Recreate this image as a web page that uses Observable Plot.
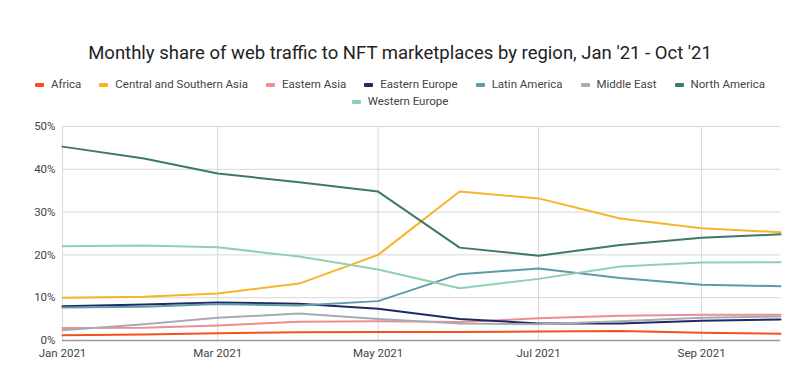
<!DOCTYPE html>
<html>
<head>
<meta charset="utf-8">
<script src="https://cdn.jsdelivr.net/npm/d3@7"></script>
<script src="https://cdn.jsdelivr.net/npm/@observablehq/plot@0.6"></script>
<style>
  body { margin: 0; background: #fff; font-family: Roboto, "Liberation Sans", Arial, sans-serif; width: 800px; height: 371px; overflow: hidden; }
  #title { height: 70px; box-sizing: border-box; padding-top: 42px; text-align: center; font-size: 18.5px; color: #222; line-height: 22px; }
  #legend { height: 40px; box-sizing: border-box; padding: 6px 10px 0 10px; display: flex; flex-wrap: wrap; justify-content: center; font-size: 11.5px; color: #444; line-height: 17px; }
  .item { display: flex; align-items: center; margin: 0 9px; white-space: nowrap; }
  .sw { width: 9px; height: 4px; border-radius: 1px; margin-right: 7px; }
  svg { display: block; }
</style>
</head>
<body>
<div id="title">Monthly share of web traffic to NFT marketplaces by region, Jan '21 - Oct '21</div>
<div id="legend"></div>
<div id="chart"></div>
<script>
const months = ["2021-01-01","2021-02-01","2021-03-01","2021-04-01","2021-05-01","2021-06-01","2021-07-01","2021-08-01","2021-09-01","2021-10-01"];
const regions = ["Africa","Central and Southern Asia","Eastern Asia","Eastern Europe","Latin America","Middle East","North America","Western Europe"];
const colors = ["#f4511e","#f6b426","#ee8d93","#1e2a66","#5f9aa9","#a9abb3","#3e7a63","#8fd0b0"];
const africa        = [1.2, 1.4, 1.7, 1.9, 2.0, 2.0, 2.1, 2.2, 1.8, 1.6];
const centralSouthAsia = [10.0, 10.2, 11.0, 13.3, 20.0, 34.8, 33.2, 28.5, 26.2, 25.3];
const easternAsia   = [2.9, 3.0, 3.5, 4.4, 4.5, 4.3, 5.2, 5.8, 6.0, 6.0];
const easternEurope = [8.0, 8.4, 8.9, 8.6, 7.4, 5.0, 4.0, 4.0, 4.6, 4.9];
const latinAmerica  = [7.7, 7.9, 8.5, 8.2, 9.2, 15.5, 16.8, 14.6, 13.0, 12.7];
const middleEast    = [2.4, 3.8, 5.3, 6.3, 5.0, 4.0, 3.8, 4.5, 5.3, 5.6];
const northAmerica  = [45.3, 42.5, 39.0, 37.0, 34.8, 21.7, 19.8, 22.3, 24.0, 24.8];
const westernEurope = [22.0, 22.2, 21.8, 19.6, 16.6, 12.2, 14.4, 17.3, 18.2, 18.3];
const yTicks = [0, 10, 20, 30, 40, 50];
const xTicks = ["2021-01-01","2021-03-01","2021-05-01","2021-07-01","2021-09-01"];

const series = [africa, centralSouthAsia, easternAsia, easternEurope, latinAmerica, middleEast, northAmerica, westernEurope];
const data = [];
regions.forEach((r, i) => series[i].forEach((v, j) => data.push({region: r, date: new Date(months[j] + "T00:00:00"), value: v})));
const xTickDates = xTicks.map(d => new Date(d + "T00:00:00"));
const fmtX = d3.timeFormat("%b %Y");

const legend = document.getElementById("legend");
regions.forEach((r, i) => {
  const it = document.createElement("div");
  it.className = "item";
  it.innerHTML = `<span class="sw" style="background:${colors[i]}"></span>${r}`;
  legend.appendChild(it);
});

const chart = Plot.plot({
  width: 800,
  height: 261,
  marginTop: 16,
  marginBottom: 31,
  marginLeft: 62,
  marginRight: 20,
  style: {fontFamily: "Roboto, 'Liberation Sans', Arial, sans-serif", fontSize: "11.5px", color: "#444"},
  x: {type: "time", domain: [new Date("2021-01-01T00:00:00"), new Date("2021-10-01T00:00:00")], label: null},
  y: {domain: [0, 50], label: null},
  color: {domain: regions, range: colors},
  marks: [
    Plot.gridY(yTicks, {stroke: "#d8d8d8", strokeOpacity: 1}),
    Plot.gridX(xTickDates, {stroke: "#d8d8d8", strokeOpacity: 1}),
    Plot.ruleY([0], {stroke: "#999", strokeWidth: 1.5}),
    Plot.line(data, {x: "date", y: "value", z: "region", stroke: "region", strokeWidth: 2}),
    Plot.axisY({ticks: yTicks, tickFormat: d => d + "%", tickSize: 0, tickPadding: 7, label: null}),
    Plot.axisX({ticks: xTickDates, tickFormat: fmtX, tickSize: 0, tickPadding: 8, label: null})
  ]
});
document.getElementById("chart").appendChild(chart);
</script>
</body>
</html>
